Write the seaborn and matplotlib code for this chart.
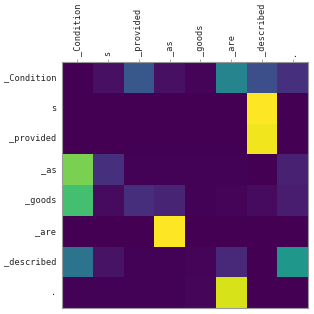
import numpy as np
import pandas as pd
import seaborn as sns
import matplotlib
matplotlib.use("Agg")
import matplotlib.pyplot as plt

tokens = ["_Condition", "s", "_provided", "_as", "_goods", "_are", "_described", "."]

row_condition = [0.00, 0.04, 0.27, 0.04, 0.01, 0.45, 0.24, 0.14]
row_s         = [0.00, 0.00, 0.00, 0.00, 0.00, 0.00, 1.00, 0.00]
row_provided  = [0.00, 0.00, 0.00, 0.00, 0.00, 0.00, 0.98, 0.00]
row_as        = [0.80, 0.14, 0.005, 0.005, 0.005, 0.005, 0.003, 0.09]
row_goods     = [0.70, 0.03, 0.13, 0.10, 0.005, 0.01, 0.03, 0.08]
row_are       = [0.00, 0.00, 0.00, 1.00, 0.00, 0.00, 0.00, 0.00]
row_described = [0.38, 0.05, 0.005, 0.005, 0.01, 0.11, 0.00, 0.53]
row_period    = [0.005, 0.005, 0.005, 0.005, 0.015, 0.94, 0.00, 0.00]

data = pd.DataFrame(
    [row_condition, row_s, row_provided, row_as, row_goods, row_are, row_described, row_period],
    index=tokens, columns=tokens)

sns.set_theme(style="white")
plt.rcParams['font.family'] = ['DejaVu Sans Mono', 'DejaVu Sans']

fig = plt.figure(figsize=(3.14, 3.14), dpi=100)
ax = fig.add_axes([62/314, 6/314, 246/314, 246/314])
sns.heatmap(data, ax=ax, cmap="viridis", vmin=0, vmax=1, cbar=False, square=False)
ax.xaxis.tick_top()
ax.set_xticklabels(tokens, rotation=90, fontsize=6.2)
ax.set_yticklabels(tokens, rotation=0, fontsize=6.2)
ax.tick_params(axis='both', length=2.5, width=0.5, color='#888888', pad=1.5)
for s in ax.spines.values():
    s.set_visible(True)
    s.set_color('#999999')
    s.set_linewidth(0.8)
ax.set_xlabel("")
ax.set_ylabel("")
fig.savefig("out.png", dpi=100)
